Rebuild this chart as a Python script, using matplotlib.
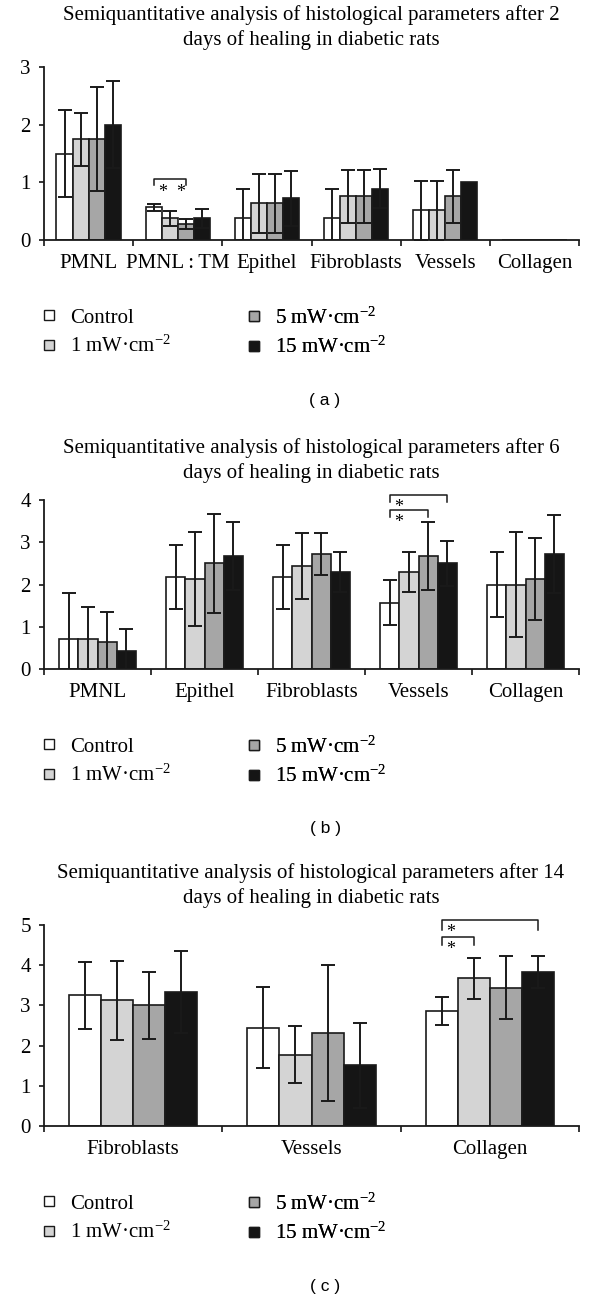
import numpy as np
import matplotlib
matplotlib.use('Agg')
import matplotlib.pyplot as plt
from matplotlib.lines import Line2D

plt.rcParams['font.family'] = ['Liberation Serif', 'DejaVu Serif']
plt.rcParams['mathtext.fontset'] = 'custom'
plt.rcParams['mathtext.rm'] = 'Liberation Serif'
plt.rcParams['mathtext.it'] = 'Liberation Serif:italic'

groups = ['Control', '1 mW·cm$^{-2}$', '5 mW·cm$^{-2}$', '15 mW·cm$^{-2}$']
colors = ['white', '#d4d4d4', '#a6a6a6', '#151515']

# day 2
day2_cats = ['PMNL', 'PMNL\u2009:\u2009TM', 'Epithel', 'Fibroblasts', 'Vessels', 'Collagen']
day2_ctrl = [1.5, 0.565, 0.39, 0.39, 0.515, 0]
day2_ctrl_sd = [0.75, 0.055, 0.5, 0.5, 0.515, 0]
day2_1mw = [1.75, 0.375, 0.635, 0.76, 0.515, 0]
day2_1mw_sd = [0.46, 0.13, 0.51, 0.46, 0.515, 0]
day2_5mw = [1.75, 0.28, 0.635, 0.76, 0.76, 0]
day2_5mw_sd = [0.9, 0.09, 0.51, 0.46, 0.46, 0]
day2_15mw = [2.0, 0.375, 0.72, 0.89, 1.0, 0]
day2_15mw_sd = [0.76, 0.16, 0.48, 0.34, 0, 0]

# day 6
day6_cats = ['PMNL', 'Epithel', 'Fibroblasts', 'Vessels', 'Collagen']
day6_ctrl = [0.72, 2.18, 2.18, 1.57, 2.0]
day6_ctrl_sd = [1.08, 0.75, 0.75, 0.53, 0.76]
day6_1mw = [0.72, 2.13, 2.43, 2.30, 2.0]
day6_1mw_sd = [0.74, 1.12, 0.78, 0.48, 1.25]
day6_5mw = [0.63, 2.50, 2.72, 2.67, 2.13]
day6_5mw_sd = [0.72, 1.18, 0.5, 0.8, 0.98]
day6_15mw = [0.43, 2.67, 2.30, 2.50, 2.72]
day6_15mw_sd = [0.52, 0.8, 0.48, 0.54, 0.93]

# day 14
day14_cats = ['Fibroblasts', 'Vessels', 'Collagen']
day14_ctrl = [3.25, 2.45, 2.87]
day14_ctrl_sd = [0.83, 1.0, 0.35]
day14_1mw = [3.13, 1.77, 3.67]
day14_1mw_sd = [0.98, 0.71, 0.52]
day14_5mw = [3.0, 2.31, 3.44]
day14_5mw_sd = [0.83, 1.70, 0.79]
day14_15mw = [3.34, 1.51, 3.83]
day14_15mw_sd = [1.02, 1.06, 0.4]

# significance: (category, group from, group to, height, drop, label)
day2_sig = [(1, 0, 2, 1.05, 0.1, r'$*\;\;*$')]
day6_sig = [(3, 0, 3, 4.13, 0.17, '$*$'), (3, 0, 2, 3.76, 0.17, '$*$')]
day14_sig = [(2, 0, 3, 5.12, 0.24, '$*$'), (2, 0, 1, 4.71, 0.21, '$*$')]

W, H = 600, 1302
fig = plt.figure(figsize=(W / 100, H / 100), dpi=100)

offsets = np.array([-0.27, -0.09, 0.09, 0.27])
bw = 0.18
fs = 15


def panel(top, bottom, ymax, cats, vals, sds, sig, title, tag):
    ax = fig.add_axes([44 / W, 1 - bottom / H, 535 / W, (bottom - top) / H])
    n = len(cats)
    x = np.arange(n) + 0.5
    for g in range(4):
        v = np.array(vals[g], dtype=float)
        s = np.array(sds[g], dtype=float)
        ax.bar(x + offsets[g], v, bw, color=colors[g], edgecolor='#1a1a1a', linewidth=1.2, zorder=2)
        m = s > 0
        ax.errorbar((x + offsets[g])[m], v[m], yerr=s[m], fmt='none', ecolor='#1a1a1a',
                    elinewidth=1.4, capsize=5, capthick=1.4, zorder=3)
    for c, g0, g1, y, d, lab in sig:
        x0 = c + 0.5 + offsets[g0]
        x1 = c + 0.5 + offsets[g1]
        ax.plot([x0, x0, x1, x1], [y - d, y, y, y - d], color='#1a1a1a', lw=1.1, clip_on=False)
        ax.annotate(lab, xy=(x0, y), xytext=(3, -1.5), textcoords='offset points',
                    ha='left', va='top', fontsize=13, annotation_clip=False)
    ax.set_xlim(0, n)
    ax.set_ylim(0, ymax)
    ax.set_yticks(range(ymax + 1))
    ax.set_xticks(np.arange(n + 1))
    ax.set_xticklabels([])
    ax.set_xticks(x, minor=True)
    ax.set_xticklabels(cats, minor=True, fontsize=fs)
    ax.tick_params(axis='x', which='major', length=4, width=1.1, direction='out')
    ax.tick_params(axis='x', which='minor', length=0, pad=10)
    ax.tick_params(axis='y', length=3.5, width=1.1, pad=6, labelsize=fs)
    for sp in ['top', 'right']:
        ax.spines[sp].set_visible(False)
    for sp in ['left', 'bottom']:
        ax.spines[sp].set_linewidth(1.3)
        ax.spines[sp].set_color('#1a1a1a')

    fig.text(311 / W, 1 - (top - 52) / H, title[0], ha='center', va='center', fontsize=fs)
    fig.text(311 / W, 1 - (top - 27) / H, title[1], ha='center', va='center', fontsize=fs)

    handles = [Line2D([], [], ls='none', marker='s', markersize=6.5, markerfacecolor=colors[g],
                      markeredgecolor='#1a1a1a', markeredgewidth=1.0) for g in range(4)]
    ymid = 1 - (bottom + 92.5) / H
    for col, xs in enumerate([44, 249]):
        leg = ax.legend(handles[2 * col:2 * col + 2], groups[2 * col:2 * col + 2],
                        loc='center left', bbox_to_anchor=(xs / W, ymid),
                        bbox_transform=fig.transFigure, frameon=False, fontsize=fs,
                        handlelength=0.5, handletextpad=0.75, labelspacing=0.4,
                        borderpad=0, borderaxespad=0)
        ax.add_artist(leg)

    fig.text(325 / W, 1 - (bottom + 160) / H, tag, ha='center', va='center', fontsize=12.5,
             family='Liberation Sans')
    return ax


panel(67, 240, 3, day2_cats,
      [day2_ctrl, day2_1mw, day2_5mw, day2_15mw],
      [day2_ctrl_sd, day2_1mw_sd, day2_5mw_sd, day2_15mw_sd], day2_sig,
      ['Semiquantitative analysis of histological parameters after 2',
       'days of healing in diabetic rats'], '( a )')
panel(500, 669, 4, day6_cats,
      [day6_ctrl, day6_1mw, day6_5mw, day6_15mw],
      [day6_ctrl_sd, day6_1mw_sd, day6_5mw_sd, day6_15mw_sd], day6_sig,
      ['Semiquantitative analysis of histological parameters after 6',
       'days of healing in diabetic rats'], '( b )')
panel(925, 1126, 5, day14_cats,
      [day14_ctrl, day14_1mw, day14_5mw, day14_15mw],
      [day14_ctrl_sd, day14_1mw_sd, day14_5mw_sd, day14_15mw_sd], day14_sig,
      ['Semiquantitative analysis of histological parameters after 14',
       'days of healing in diabetic rats'], '( c )')

fig.savefig('out.png', dpi=100)
